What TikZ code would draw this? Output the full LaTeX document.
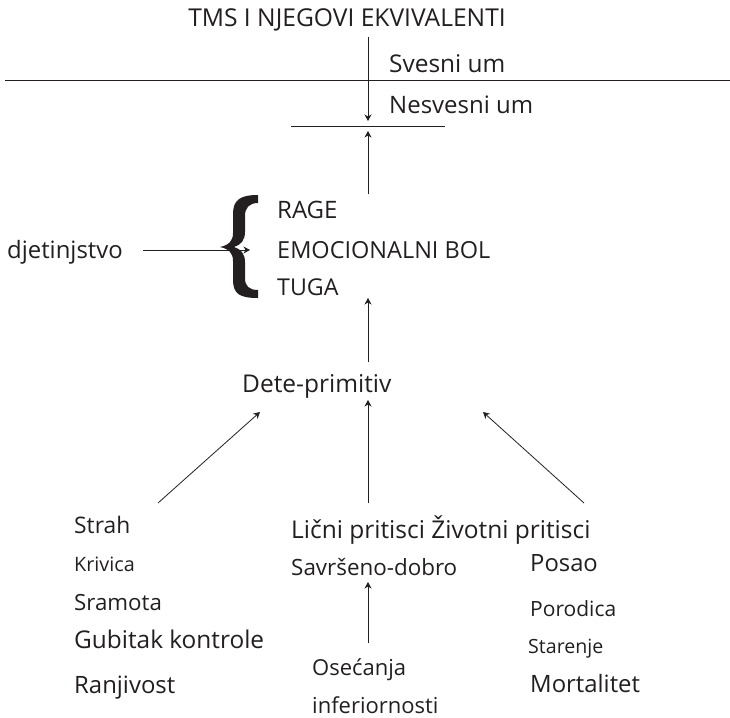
\documentclass[tikz,border=0pt]{standalone}
\usepackage{fontspec}
\setmainfont{Open Sans}
\usetikzlibrary{arrows.meta}
\definecolor{ink}{HTML}{231F20}
\begin{document}
\begin{tikzpicture}[x=1pt,y=-1pt,
  txt/.style={inner sep=0pt, anchor=base west, text=ink, font=\fontsize{#1}{#1}\selectfont},
  txt/.default=22,
  ln/.style={line width=0.8pt, draw=ink},
  arr/.style={ln, -{Stealth[length=6.5pt,width=7pt,inset=2pt]}}]
\useasboundingbox (0,0) rectangle (730,717);
% top
\node[txt=24.6, anchor=base] (title) at (347,27) {TMS I NJEGOVI EKVIVALENTI};
\node[txt=24.4] (svesni) at (389,72) {Svesni um};
\node[txt=24] (nesvesni) at (389,113) {Nesvesni um};
\coordinate (l1) at (5,80);
\coordinate (l2) at (730,80);
\draw[ln] (l1) -- (l2);
\coordinate (s1) at (291,126);
\coordinate (s2) at (445,126);
\draw[ln] (s1) -- (s2);
\coordinate (a1) at (368,37);
\coordinate (a2) at (368,121);
\draw[arr] (a1) -- (a2);
\coordinate (b1) at (368,194);
\coordinate (b2) at (368,131);
\draw[arr] (b1) -- (b2);
% middle block
\node[txt=24] (rage) at (277,218) {RAGE};
\node[txt=23.5] (bol) at (277,258) {EMOCIONALNI BOL};
\node[txt=23.2] (tuga) at (277,295) {TUGA};
\node[txt=23.9] (djet) at (7,258) {djetinjstvo};
\fill[ink] (258,195) .. controls (240,195) and (233,200) .. (233,214) -- (233,233)
  .. controls (233,241) and (229,245) .. (220,247)
  .. controls (229,249) and (233,253) .. (233,261) -- (233,280)
  .. controls (233,294) and (240,298) .. (258,298)
  -- (258,290) .. controls (249,290) and (245,286) .. (245,278) -- (245,262)
  .. controls (245,254) and (241,249) .. (234,247)
  .. controls (241,245) and (245,240) .. (245,232) -- (245,216)
  .. controls (245,208) and (249,203) .. (258,203) -- cycle;
\coordinate (d1) at (143,250);
\coordinate (d2) at (250,250);
\draw[arr] (d1) -- (d2);
\coordinate (c1) at (368,362);
\coordinate (c2) at (368,298);
\draw[arr] (c1) -- (c2);
\node[txt=24.5] (dete) at (242,392) {Dete-primitiv};
% arrows to Dete-primitiv
\coordinate (e1) at (368,503);
\coordinate (e2) at (368,400);
\draw[arr] (e1) -- (e2);
\coordinate (f1) at (158,503);
\coordinate (f2) at (260,412);
\draw[arr] (f1) -- (f2);
\coordinate (g1) at (584,503);
\coordinate (g2) at (483,412);
\draw[arr] (g1) -- (g2);
% left column
\node[txt=22.8] (strah) at (74,533) {Strah};
\node[txt=19.8] (krivica) at (74,571) {Krivica};
\node[txt=22.3] (sramota) at (74,610) {Sramota};
\node[txt=24.4] (gubitak) at (74,648) {Gubitak kontrole};
\node[txt=23.9] (ranj) at (74,693) {Ranjivost};
% middle column
\node[txt=24.5] (licni) at (291,538) {Lični pritisci Životni pritisci};
\node[txt=22.4] (savrseno) at (291,575) {Savršeno-dobro};
\coordinate (h1) at (368,643);
\coordinate (h2) at (368,582);
\draw[arr] (h1) -- (h2);
\node[txt=22] (osec) at (312,675) {Osećanja};
\node[txt=22] (inf) at (312,713) {inferiornosti};
% right column
\node[txt=23.8] (posao) at (530,571) {Posao};
\node[txt=21] (porod) at (530,616) {Porodica};
\node[txt=19.6] (staren) at (528,653) {Starenje};
\node[txt=23.9] (mort) at (530,692) {Mortalitet};
\end{tikzpicture}
\end{document}
